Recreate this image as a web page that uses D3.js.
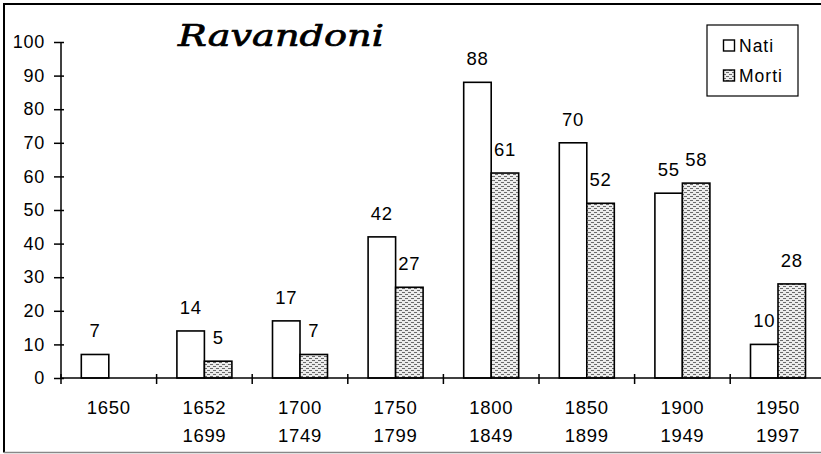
<!DOCTYPE html>
<html>
<head>
<meta charset="utf-8">
<script src="https://cdn.jsdelivr.net/npm/d3@7"></script>
<style>
  html, body { margin: 0; padding: 0; background: #fff; }
  svg { display: block; }
  text { font-family: "Liberation Sans", Arial, sans-serif; fill: #000; letter-spacing: 0.7px; }
</style>
</head>
<body>
<svg id="chart" width="821" height="454"></svg>
<script>
const title = "Ravandoni";
const categories = [["1650"], ["1652", "1699"], ["1700", "1749"], ["1750", "1799"], ["1800", "1849"], ["1850", "1899"], ["1900", "1949"], ["1950", "1997"]];
const seriesNames = ["Nati", "Morti"];
const nati = [7, 14, 17, 42, 88, 70, 55, 10];
const morti = [null, 5, 7, 27, 61, 52, 58, 28];
const yTicks = [0, 10, 20, 30, 40, 50, 60, 70, 80, 90, 100];

(function () {
const svg = d3.select("#chart");
const W = 821, H = 454;
const plotLeft = 61, plotTop = 42, plotBottom = 378, step = 95.6;

// pattern for Morti
const defs = svg.append("defs");
const pat = defs.append("pattern").attr("id", "dots").attr("patternUnits", "userSpaceOnUse")
  .attr("width", 6).attr("height", 4);
pat.append("rect").attr("width", 6).attr("height", 4).attr("fill", "#ececec");
pat.append("rect").attr("x", 0).attr("y", 0).attr("width", 3).attr("height", 1).attr("fill", "#6a6a6a");
pat.append("rect").attr("x", 3).attr("y", 2).attr("width", 3).attr("height", 1).attr("fill", "#6a6a6a");

const keys = categories.map(c => c.join("-"));
const x = d3.scaleBand().domain(keys).range([plotLeft, plotLeft + step * keys.length]).padding(0);
const xs = d3.scaleBand().domain(seriesNames).range([20.3, 75.3]).padding(0);
const y = d3.scaleLinear().domain([0, 100]).range([plotBottom, plotTop]);

const data = keys.map((k, i) => ({ key: k, lines: categories[i], vals: [nati[i], morti[i]] }));

// bars
const g = svg.append("g");
data.forEach(d => {
  seriesNames.forEach((s, j) => {
    const v = d.vals[j];
    if (v == null) return;
    const bx = x(d.key) + xs(s);
    g.append("rect")
      .attr("x", bx).attr("y", y(v))
      .attr("width", xs.bandwidth()).attr("height", y(0) - y(v))
      .attr("fill", j === 0 ? "#fff" : "url(#dots)")
      .attr("stroke", "#000").attr("stroke-width", 1.6);
    g.append("text")
      .attr("x", bx + xs.bandwidth() / 2).attr("y", y(v) - 17)
      .attr("text-anchor", "middle").attr("font-size", 18.5)
      .text(v);
  });
});

// y axis
const yAxis = svg.append("g").attr("transform", `translate(${plotLeft},0)`)
  .call(d3.axisLeft(y).tickValues(yTicks).tickSize(7).tickPadding(9));
yAxis.select(".domain").attr("stroke", "#000").attr("stroke-width", 1.5).attr("d", `M0,${plotTop}V${plotBottom}`);
yAxis.selectAll(".tick line").attr("stroke", "#000").attr("stroke-width", 1.5).attr("x1", 3).attr("x2", -7);
yAxis.selectAll(".tick text").attr("font-size", 18).attr("fill", "#000");

// x axis
const xAxis = svg.append("g").attr("transform", `translate(0,${plotBottom})`);
xAxis.append("line").attr("x1", plotLeft).attr("x2", W).attr("y1", 0).attr("y2", 0)
  .attr("stroke", "#000").attr("stroke-width", 1.5);
keys.forEach(k => {
  xAxis.append("line").attr("x1", x(k)).attr("x2", x(k)).attr("y1", -4).attr("y2", 6)
    .attr("stroke", "#000").attr("stroke-width", 1.5);
});
data.forEach(d => {
  const t = xAxis.append("text").attr("text-anchor", "middle").attr("font-size", 18.5)
    .attr("x", x(d.key) + x.bandwidth() / 2);
  d.lines.forEach((ln, i) => {
    t.append("tspan").attr("x", x(d.key) + x.bandwidth() / 2).attr("y", 36 + i * 27.5).text(ln);
  });
});

// title
svg.append("text").attr("x", 178).attr("y", 46)
  .attr("font-style", "italic")
  .attr("font-size", 29).attr("textLength", 206).attr("lengthAdjust", "spacingAndGlyphs")
  .attr("stroke", "#000").attr("stroke-width", 0.7)
  .style("font-family", "'DejaVu Serif', serif").style("letter-spacing", "0px")
  .text(title);

// legend
const leg = svg.append("g");
leg.append("rect").attr("x", 707).attr("y", 25).attr("width", 91).attr("height", 71)
  .attr("fill", "#fff").attr("stroke", "#000").attr("stroke-width", 1.2);
seriesNames.forEach((s, j) => {
  const ly = 40 + j * 30;
  leg.append("rect").attr("x", 723.5).attr("y", ly).attr("width", 11).attr("height", 11)
    .attr("fill", j === 0 ? "#fff" : "url(#dots)").attr("stroke", "#000").attr("stroke-width", 1.4);
  leg.append("text").attr("x", 739).attr("y", ly + 12).attr("font-size", 17.5)
    .style("letter-spacing", "1px").text(s);
});

// frame
svg.append("path").attr("d", `M${W},4H4V452.5`).attr("fill", "none")
  .attr("stroke", "#000").attr("stroke-width", 2);
svg.append("line").attr("x1", 4).attr("x2", W).attr("y1", 452.5).attr("y2", 452.5)
  .attr("stroke", "#888").attr("stroke-width", 1.5);
})();
</script>
</body>
</html>
